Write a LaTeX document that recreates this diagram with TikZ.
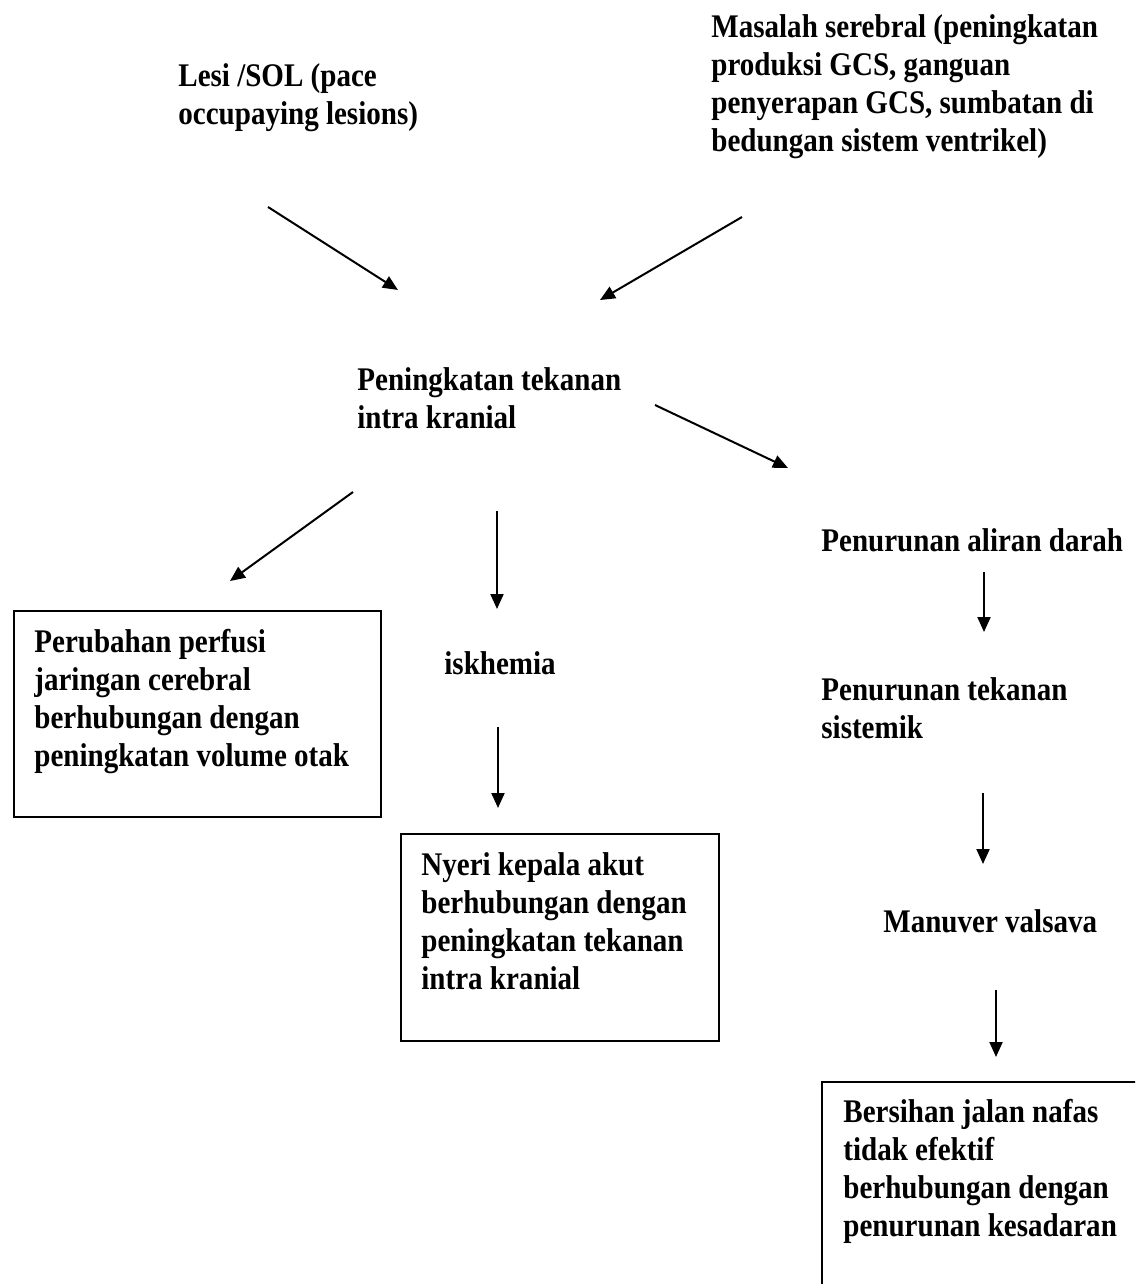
\documentclass[tikz,border=0pt]{standalone}
\usepackage{fontspec}
\setmainfont[FakeStretch=0.88]{Liberation Serif}
\usetikzlibrary{arrows.meta}

\begin{document}
\begin{tikzpicture}[x=0.5pt,y=-0.5pt,
   txt/.style={anchor=base west,align=left,inner sep=0pt,font=\fontsize{16.5}{19}\selectfont\bfseries},
   box/.style={draw=black,line width=1pt,anchor=north west,inner sep=0pt},
   arr/.style={draw=black,line width=1pt,-{Triangle[length=7.5pt,width=6.5pt]}}]
   \clip (0,0) rectangle (1135,1284);
   % boxes first, texts go on top
   \foreach \name/\x/\y/\w/\h in {{box1/13/610/367/206},{box2/400/833/318/207},{box3/821/1081/330/220}}
      \node[box,minimum width=\w*0.5pt,minimum height=\h*0.5pt] (\name) at (\x,\y) {};
   % texts, placed at the baseline of their last line
   \node[txt] (lesi) at (178,125) {Lesi /SOL (pace\\occupaying lesions)};
   \node[txt] (masalah) at (711,151) {Masalah serebral (peningkatan\\produksi GCS, ganguan\\penyerapan GCS, sumbatan di\\bedungan sistem ventrikel)};
   \node[txt] (tik) at (357,428) {Peningkatan tekanan\\intra kranial};
   \node[txt] (aliran) at (821,551) {Penurunan aliran darah};
   \node[txt] (sistemik) at (821,738) {Penurunan tekanan\\sistemik};
   \node[txt] (valsava) at (883,932) {Manuver valsava};
   \node[txt] (iskhemia) at (444,674) {iskhemia};
   \node[txt] (perfusi) at (34,766) {Perubahan perfusi\\jaringan cerebral\\berhubungan dengan\\peningkatan volume otak};
   \node[txt] (nyeri) at (421,989) {Nyeri kepala akut\\berhubungan dengan\\peningkatan tekanan\\intra kranial};
   \node[txt] (nafas) at (843,1236) {Bersihan jalan nafas\\tidak efektif\\berhubungan dengan\\penurunan kesadaran};
   % arrows; format: {name/x start/y start/x tip/y tip}
   \foreach \n/\xa/\ya/\xb/\yb in {{a/268/207/398/290},{b/742/217/600/300},{c/655/405/788/468},{d/353/492/230/581},{e/497/511/497/609},{f/498/727/498/808},{g/984/572/984/632},{h/983/793/983/864},{i/996/990/996/1057}}{
      \coordinate (\n s) at (\xa,\ya);
      \coordinate (\n e) at (\xb,\yb);
      \draw[arr] (\n s) -- (\n e);
   }
\end{tikzpicture}
\end{document}
